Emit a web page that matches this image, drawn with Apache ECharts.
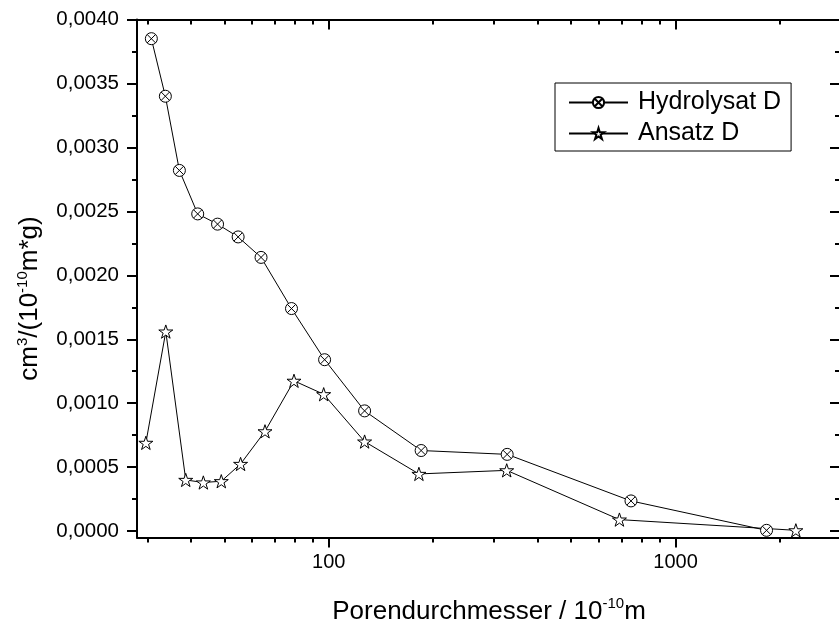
<!DOCTYPE html>
<html>
<head>
<meta charset="utf-8">
<script src="https://cdn.jsdelivr.net/npm/echarts@6/dist/echarts.min.js"></script>
<style>
html,body{margin:0;padding:0;background:#fff;}
#chart{width:839px;height:626px;}
</style>
</head>
<body>
<div id="chart"></div>
<script>
// ---- data ----
var hydroX = [30.8, 33.8, 37.1, 41.9, 47.8, 54.8, 63.8, 78.1, 97.3, 126.9, 184.7, 327, 744, 1830];
var hydroY = [0.00385, 0.0034, 0.00282, 0.00248, 0.0024, 0.0023, 0.00214, 0.00174, 0.00134, 0.00094, 0.00063, 0.0006, 0.000236, 0.000006];
var ansatzX = [29.7, 33.9, 38.7, 43.5, 49.0, 55.7, 65.5, 79.4, 96.7, 126.9, 182, 326, 689, 2223];
var ansatzY = [0.00069, 0.00156, 0.0004, 0.00038, 0.00039, 0.000525, 0.00078, 0.001175, 0.00107, 0.0007, 0.000447, 0.000475, 0.00009, 0.000006];
var seriesNames = ['Hydrolysat D', 'Ansatz D'];

// ---- tick values ----
var xMajor = [100, 1000];
var xMinor = [30, 40, 50, 60, 70, 80, 90, 200, 300, 400, 500, 600, 700, 800, 900, 2000];
var yMajor = [0, 0.0005, 0.001, 0.0015, 0.002, 0.0025, 0.003, 0.0035, 0.004];
var yMinor = [0.00025, 0.00075, 0.00125, 0.00175, 0.00225, 0.00275, 0.00325, 0.00375];
var xRange = [28, 3000];
var yRange = [-0.00005, 0.004];

var FONT = 'Liberation Sans, Arial, sans-serif';
var BLACK = '#000';

function zip(xs, ys) { return xs.map(function (x, i) { return [x, ys[i]]; }); }

var circleX = 'path://M0,-10A10,10,0,1,1,0,10A10,10,0,1,1,0,-10ZM-7.07,-7.07L7.07,7.07M-7.07,7.07L7.07,-7.07';
var star = 'path://M0,-10L2.245,-3.09L9.511,-3.09L3.633,1.18L5.878,8.09L0,3.82L-5.878,8.09L-3.633,1.18L-9.511,-3.09L-2.245,-3.09Z';

function xAxisDef(pos, ticks, len, inside, labels, showLine) {
  return {
    type: 'log', logBase: 10, position: pos, min: xRange[0], max: xRange[1],
    splitLine: { show: false },
    axisLine: { show: showLine, onZero: false, lineStyle: { color: BLACK, width: 2 } },
    axisTick: { show: true, customValues: ticks, length: len, inside: inside, lineStyle: { color: BLACK, width: 2 } },
    axisLabel: labels ? {
      show: true, customValues: labels, color: BLACK, fontFamily: FONT, fontSize: 20, margin: 15,
      formatter: function (v) { return String(Math.round(v)); }
    } : { show: false },
    minorTick: { show: false }
  };
}
function yAxisDef(pos, ticks, len, inside, labels, showLine) {
  return {
    type: 'value', position: pos, min: yRange[0], max: yRange[1],
    splitLine: { show: false },
    axisLine: { show: showLine, onZero: false, lineStyle: { color: BLACK, width: 2 } },
    axisTick: { show: true, customValues: ticks, length: len, inside: inside, lineStyle: { color: BLACK, width: 2 } },
    axisLabel: labels ? {
      show: true, customValues: labels, color: BLACK, fontFamily: FONT, fontSize: 20.5, margin: 18,
      formatter: function (v) { return v.toFixed(4).replace('.', ','); }
    } : { show: false }
  };
}

var titleRich = {
  a: { fontFamily: FONT, fontSize: 26, color: BLACK, lineHeight: 30 },
  s: { fontFamily: FONT, fontSize: 15, color: BLACK, lineHeight: 15, verticalAlign: 'top' }
};

var xAxes = [
  xAxisDef('bottom', xMajor, 10, false, xMajor, true),
  xAxisDef('bottom', xMinor, 5, false, null, false),
  xAxisDef('top', xMajor, 10, true, null, true),
  xAxisDef('top', xMinor, 5, true, null, false)
];
xAxes[0].name = '{a|Porendurchmesser / 10}{s|-10}{a|m}';
xAxes[0].nameLocation = 'middle';
xAxes[0].nameGap = 59;
xAxes[0].nameTextStyle = { rich: titleRich };

var yAxes = [
  yAxisDef('left', yMajor, 10, false, yMajor, true),
  yAxisDef('left', yMinor, 5, false, null, false),
  yAxisDef('right', yMajor, 11, true, null, true),
  yAxisDef('right', yMinor, 6, true, null, false)
];
yAxes[0].name = '{a|cm}{s|3}{a|/(10}{s|-10}{a|m*g)}';
yAxes[0].nameLocation = 'middle';
yAxes[0].nameGap = 92;
yAxes[0].nameTextStyle = { rich: titleRich, padding: [0, 40, 0, 0] };

var chart = echarts.init(document.getElementById('chart'), null, { renderer: 'canvas' });
chart.setOption({
  animation: false,
  backgroundColor: '#fff',
  grid: { left: 137, top: 19.5, width: 704, height: 518, containLabel: false, outerBoundsMode: 'none' },
  xAxis: xAxes,
  yAxis: yAxes,
  legend: {
    left: 555, top: 83, orient: 'vertical',
    data: seriesNames,
    borderColor: BLACK, borderWidth: 1, borderRadius: 0,
    padding: [7, 10, 5, 13],
    itemWidth: 59, itemHeight: 14, itemGap: 6,
    textStyle: { fontFamily: FONT, fontSize: 25, color: BLACK, lineHeight: 24, padding: [0, 0, 0, 5] }
  },
  series: [
    {
      name: seriesNames[0], type: 'line', xAxisIndex: 0, yAxisIndex: 0,
      data: zip(hydroX, hydroY),
      symbol: circleX, symbolSize: 12, symbolKeepAspect: true, showAllSymbol: true,
      lineStyle: { color: BLACK, width: 1 },
      itemStyle: { color: '#fff', borderColor: BLACK, borderWidth: 1 }
    },
    {
      name: seriesNames[1], type: 'line', xAxisIndex: 0, yAxisIndex: 0,
      data: zip(ansatzX, ansatzY),
      symbol: star, symbolSize: 14, symbolKeepAspect: true, showAllSymbol: true,
      lineStyle: { color: BLACK, width: 1 },
      itemStyle: { color: '#fff', borderColor: BLACK, borderWidth: 1 }
    }
  ]
});
</script>
</body>
</html>
